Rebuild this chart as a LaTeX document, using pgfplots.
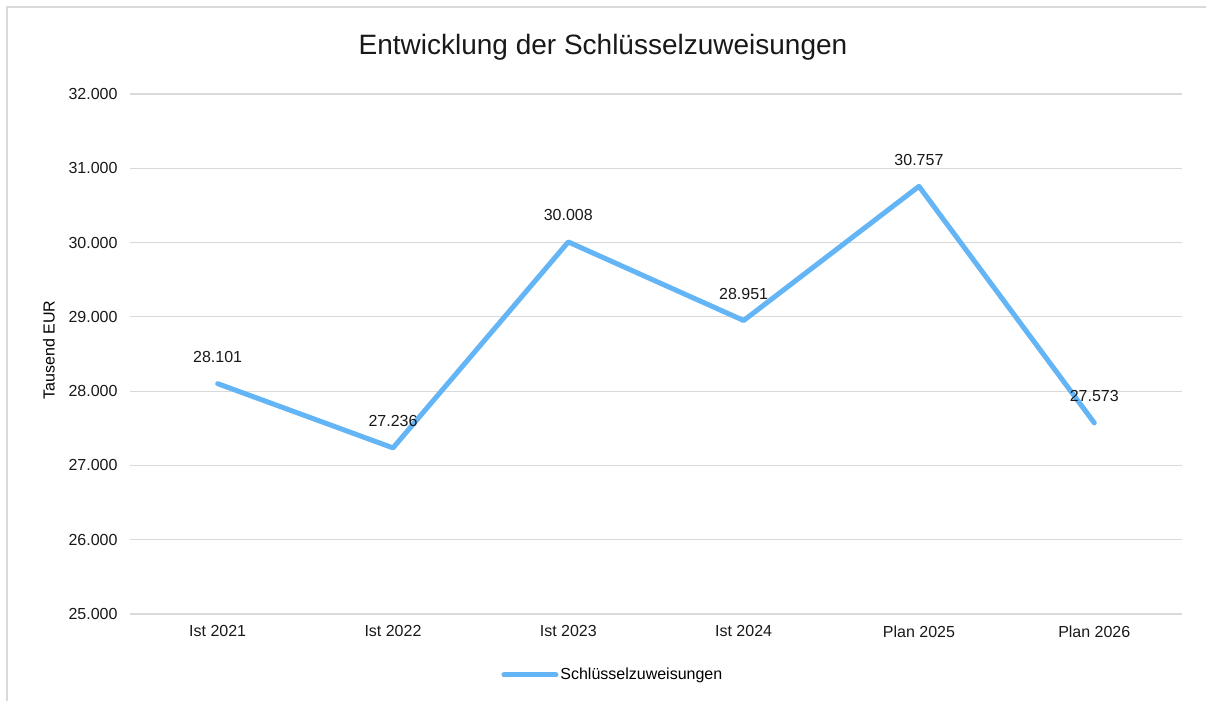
\documentclass[border=0pt]{standalone}
\usepackage{fontspec}
\setmainfont{Liberation Sans}
\usepackage{pgfplots}
\pgfplotsset{compat=1.18}

\definecolor{linieblau}{RGB}{100,181,246}
\definecolor{gitter}{RGB}{217,217,217}
\definecolor{rahmen}{RGB}{217,217,217}

\begin{document}
\begin{tikzpicture}
\useasboundingbox (0,0) rectangle (1206bp,701bp);
\fill[white] (0,0) rectangle (1206bp,701bp);
\draw[rahmen, line width=1.5bp] (7bp,0) -- (7bp,694bp) -- (1206bp,694bp);

\node[font=\fontsize{28bp}{32bp}\selectfont, text=black!90] at (603bp,654bp) {Entwicklung der Schlüsselzuweisungen};
\node[rotate=90, font=\fontsize{16bp}{19bp}\selectfont] at (49bp,351bp) {Tausend EUR};

\begin{axis}[
  at={(130bp,87bp)},
  anchor=south west,
  scale only axis,
  width=1052bp,
  height=520bp,
  xmin=-0.5, xmax=5.5,
  ymin=25000, ymax=32000,
  xtick=data,
  xticklabels={Ist 2021, Ist 2022, Ist 2023, Ist 2024, Plan 2025, Plan 2026},
  ytick={25000,26000,...,32000},
  scaled y ticks=false,
  axis line style={draw=none},
  axis x line*=bottom,
  major tick length=0pt,
  ymajorgrids,
  grid style={gitter, line width=1.2bp},
  tick label style={font=\fontsize{16bp}{19bp}\selectfont, text=black!90},
  yticklabel style={xshift=-9bp},
  xticklabel style={yshift=-8bp},
  /pgf/number format/.cd, fixed, precision=0, 1000 sep={.}, assume math mode=true,
  /pgfplots/.cd,
  legend style={at={(0.459,-0.117)}, anchor=center, draw=none, fill=none,
    font=\fontsize{16bp}{19bp}\selectfont, legend columns=1,
    /tikz/every even column/.append style={column sep=0pt}},
  legend image code/.code={\draw[#1] (0bp,0bp) -- (52bp,0bp);},
  clip=false,
]
\addplot[linieblau, line width=5bp, line join=round, line cap=round,
  nodes near coords, point meta=y,
  every node near coord/.append style={font=\fontsize{16bp}{19bp}\selectfont, text=black!90, anchor=south, yshift=15bp},
] coordinates {
  (0,28101) (1,27236) (2,30008) (3,28951) (4,30757) (5,27573)
};
\addlegendentry{Schlüsselzuweisungen}
\end{axis}
\end{tikzpicture}
\end{document}
